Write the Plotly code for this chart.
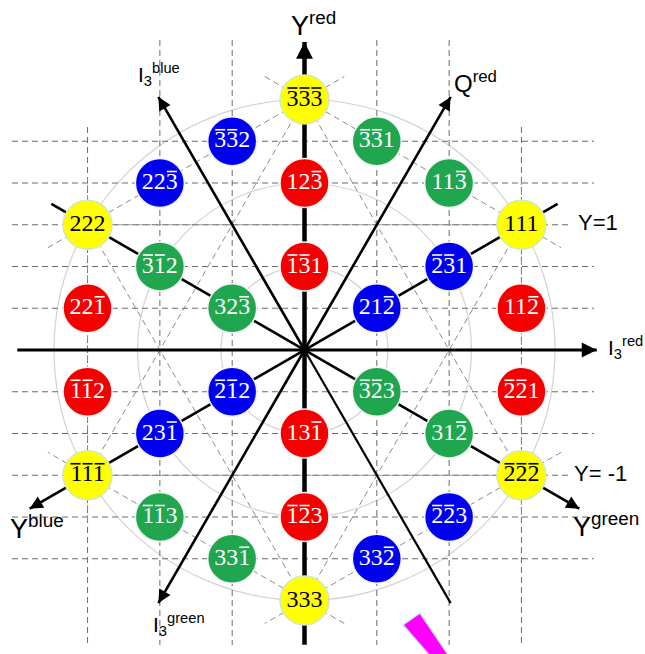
import math
import plotly.graph_objects as go

# ---- weight-lattice sites: (col, row) with x = col*sqrt(3)/2, y = row/2 (unit = nearest-neighbour spacing)
# a leading "-" marks a barred digit
site_labels = ["-3-3-3", "-3-32", "-3-31", "22-3", "12-3", "11-3", "222", "111",
               "-3-12", "-1-31", "-2-31", "22-1", "32-3", "21-2", "11-2",
               "-1-12", "-2-12", "-3-23", "-2-21", "23-1", "13-1", "31-2",
               "-1-1-1", "-2-2-2", "-1-13", "-1-23", "-2-23", "33-1", "33-2", "333"]
site_cols = [0, -1, 1, -2, 0, 2, -3, 3,
             -2, 0, 2, -3, -1, 1, 3,
             -3, -1, 1, 3, -2, 0, 2,
             -3, 3, -2, 0, 2, -1, 1, 0]
site_rows = [6, 5, 5, 4, 4, 4, 3, 3,
             2, 2, 2, 1, 1, 1, 1,
             -1, -1, -1, -1, -2, -2, -2,
             -3, -3, -4, -4, -4, -5, -5, -6]
site_colors = ["yellow", "blue", "green", "blue", "red", "green", "yellow", "yellow",
               "green", "red", "blue", "red", "green", "blue", "red",
               "red", "blue", "green", "red", "blue", "red", "green",
               "yellow", "yellow", "green", "red", "blue", "green", "blue", "yellow"]

# hexagon and the two triangles of the star (corners as (col, row))
hexagon = [(0, 6), (3, 3), (3, -3), (0, -6), (-3, -3), (-3, 3)]
triangle_a = [(0, 6), (3, -3), (-3, -3)]
triangle_b = [(0, -6), (3, 3), (-3, 3)]
ring_radii = [1, 2, 3]
grid_rows = [-5, -4, -3, -2, -1, 1, 2, 3, 4, 5]
grid_cols = [-3, -2, -1, 1, 2, 3]

# axes: (angle in degrees, start length, end length, arrow?, width)
axis_lines = [
    (90, -3.53, 3.69, True, 4.5),     # Y red
    (0, -3.44, 3.50, True, 3.0),      # I3 red
    (120, 0.0, 3.50, True, 2.6),      # I3 blue
    (240, 0.0, 3.50, True, 2.6),      # I3 green
    (60, 0.0, 3.50, True, 2.6),       # Q red
    (300, 0.0, 3.50, False, 2.2),
    (210, -3.50, 3.80, True, 2.6),    # Y blue
    (330, -3.50, 3.80, True, 2.6),    # Y green
]

PALETTE = {"yellow": "#ffff00", "red": "#f50000", "blue": "#0000f0", "green": "#1fa64e"}
S = 83.5            # pixels per lattice unit
CX, CY = 304.5, 350  # centre in pixels
W, H = 645, 654
R3 = math.sqrt(3) / 2
LABEL_SIZE = 24      # px; Liberation Serif digits are 0.5 em wide


def lat(c, r):
    return c * R3, r / 2


def pix(xp, yp):
    return (xp - CX) / S, (CY - yp) / S


def parse(s):
    """'-3-32' -> [('3', True), ('3', True), ('2', False)]"""
    out, i = [], 0
    while i < len(s):
        if s[i] == "-":
            out.append((s[i + 1], True))
            i += 2
        else:
            out.append((s[i], False))
            i += 1
    return out


fig = go.Figure()

# light grey rings
for r in ring_radii:
    fig.add_shape(type="circle", x0=-r, x1=r, y0=-r, y1=r, layer="below",
                  line=dict(color="#d2d2d2", width=1.2))

# dashed grid
gx, gy = [], []
for r in grid_rows:
    x0, _ = pix(12, 0)
    x1, _ = pix(571 if abs(r) == 3 else 594, 0)
    gx += [x0, x1, None]
    gy += [r / 2, r / 2, None]
for c in grid_cols:
    _, ytop = pix(0, 127 if abs(c) == 3 else 40)
    _, ybot = pix(0, 645)
    gx += [c * R3, c * R3, None]
    gy += [ytop, ybot, None]
fig.add_trace(go.Scatter(x=gx, y=gy, mode="lines", hoverinfo="skip",
                         line=dict(color="#6a6a6a", width=1, dash="6px,4px")))

# hexagon sides, extended a little beyond each corner, and the star triangles
dx, dy = [], []
ext = 0.55
for i in range(len(hexagon)):
    ax, ay = lat(*hexagon[i])
    bx, by = lat(*hexagon[(i + 1) % len(hexagon)])
    L = math.hypot(bx - ax, by - ay)
    ux, uy = (bx - ax) / L, (by - ay) / L
    dx += [ax - ux * ext, bx + ux * ext, None]
    dy += [ay - uy * ext, by + uy * ext, None]
for tri in (triangle_a, triangle_b):
    for i in range(3):
        ax, ay = lat(*tri[i])
        bx, by = lat(*tri[(i + 1) % 3])
        dx += [ax, bx, None]
        dy += [ay, by, None]
fig.add_trace(go.Scatter(x=dx, y=dy, mode="lines", hoverinfo="skip",
                         line=dict(color="#8a8a8a", width=1, dash="6px,4px")))

# axes
annotations = []
for ang, l0, l1, arrow, w in axis_lines:
    ca, sa = math.cos(math.radians(ang)), math.sin(math.radians(ang))
    fig.add_trace(go.Scatter(x=[l0 * ca, l1 * ca], y=[l0 * sa, l1 * sa], mode="lines",
                             hoverinfo="skip", line=dict(color="black", width=w)))
    if arrow:
        annotations.append(dict(x=l1 * ca, y=l1 * sa, ax=(l1 - 0.12) * ca, ay=(l1 - 0.12) * sa,
                                xref="x", yref="y", axref="x", ayref="y", text="",
                                showarrow=True, arrowhead=2, arrowsize=1.0 if w < 4 else 0.75,
                                arrowwidth=w, arrowcolor="black"))

# coloured sites with their digit labels
xs = [c * R3 for c in site_cols]
ys = [r / 2 for r in site_rows]
text_colors = ["black" if c == "yellow" else "white" for c in site_colors]
fig.add_trace(go.Scatter(
    x=xs, y=ys, mode="markers+text", hoverinfo="skip",
    marker=dict(size=49, color=[PALETTE[c] for c in site_colors],
                line=dict(color=["#cfe8c8" if c == "yellow" else "#f4f4f4" for c in site_colors],
                          width=1.5)),
    text=["".join(d for d, _ in parse(s)) for s in site_labels], textposition="middle center",
    textfont=dict(family="Liberation Serif, Times New Roman, serif", size=LABEL_SIZE,
                  color=text_colors)))

# overbars on the barred digits (anti-colour indices)
pitch = 0.5 * LABEL_SIZE / S
bar_dy = 11.5 / S
bars = {"white": ([], []), "black": ([], [])}
for s, x, y, tc in zip(site_labels, xs, ys, text_colors):
    digits = parse(s)
    n = len(digits)
    for i, (_, barred) in enumerate(digits):
        if barred:
            xc = x + (i - (n - 1) / 2) * pitch
            bx, by = bars[tc]
            bx += [xc - 0.42 * pitch, xc + 0.42 * pitch, None]
            by += [y + bar_dy, y + bar_dy, None]
for col, (bx, by) in bars.items():
    fig.add_trace(go.Scatter(x=bx, y=by, mode="lines", hoverinfo="skip",
                             line=dict(color=col, width=1.6)))

# axis captions
SANS = "Liberation Sans, Arial, sans-serif"
captions = [
    ("Y<sup>red</sup>", 289, 24, 27),
    ("I<sub>3</sub><sup>blue</sup>", 136, 74, 21),
    ("Q<sup>red</sup>", 452, 82, 24),
    ("Y=1", 576, 222, 22),
    ("I<sub>3</sub><sup>red</sup>", 606, 347, 21),
    ("Y= -1", 572, 473, 22),
    ("Y<sup>green</sup>", 571, 525, 27),
    ("Y<sup>blue</sup>", 8, 527, 27),
    ("I<sub>3</sub><sup>green</sup>", 151, 624, 21),
]
for txt, xp, yp, fs in captions:
    x, y = pix(xp, yp)
    annotations.append(dict(x=x, y=y, xref="x", yref="y", text=txt, showarrow=False,
                            xanchor="left", yanchor="middle",
                            font=dict(family=SANS, size=fs, color="black")))

# magenta highlighter stroke at the bottom
stroke = [(403, 625), (420, 613), (449, 656), (430, 656)]
pts = [pix(*p) for p in stroke]
path = "M " + " L ".join(f"{x:.4f},{y:.4f}" for x, y in pts) + " Z"
fig.add_shape(type="path", path=path, fillcolor="#ff00ff",
              line=dict(color="#bfe9ef", width=1.5), layer="above")

x0, y0 = pix(0, H)
x1, y1 = pix(W, 0)
fig.update_layout(
    width=W, height=H, margin=dict(l=0, r=0, t=0, b=0),
    paper_bgcolor="white", plot_bgcolor="white", showlegend=False,
    xaxis=dict(range=[x0, x1], visible=False, fixedrange=True),
    yaxis=dict(range=[y0, y1], visible=False, fixedrange=True),
    annotations=annotations,
)
fig.write_html("out.html")
